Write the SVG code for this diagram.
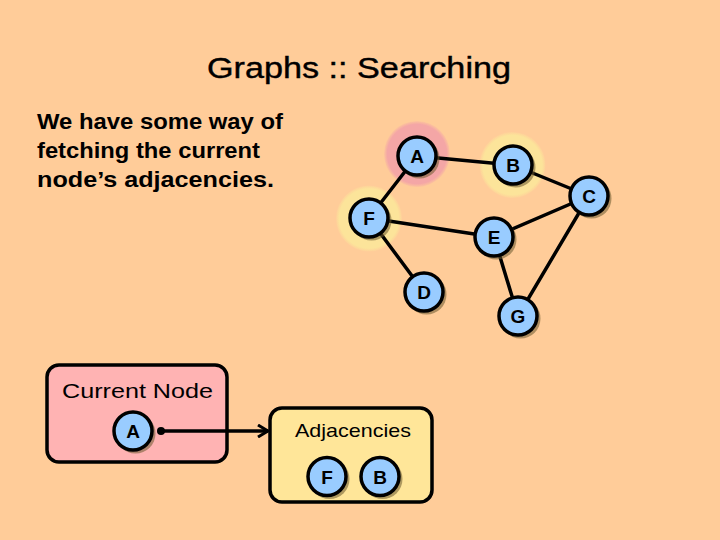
<svg xmlns="http://www.w3.org/2000/svg" width="720" height="540" viewBox="0 0 720 540">
<style>
  .edge { stroke: #000; stroke-width: 3.5; fill: none; stroke-linecap: round; }
  .nc { fill: #99ccff; stroke: #000; stroke-width: 3.5; }
  .sh { fill: #6b5a30; opacity: 0.55; }
  .lbl { font-family: "Liberation Sans", Arial, sans-serif; font-weight: bold; font-size: 19px; text-anchor: middle; fill: #000; }
  .txt { font-family: "Liberation Sans", Arial, sans-serif; fill: #000; }
</style>
<defs>
  <radialGradient id="haloPink" cx="0.5" cy="0.5" r="0.5">
    <stop offset="0" stop-color="#f4a6a6"/>
    <stop offset="0.9" stop-color="#f4a6a6"/>
    <stop offset="1" stop-color="#f4a6a6" stop-opacity="0.2"/>
  </radialGradient>
  <radialGradient id="haloYellow" cx="0.5" cy="0.5" r="0.5">
    <stop offset="0" stop-color="#fce49a"/>
    <stop offset="0.9" stop-color="#fce49a"/>
    <stop offset="1" stop-color="#fce49a" stop-opacity="0.2"/>
  </radialGradient>
  <marker id="arrow" viewBox="0 0 14 14" refX="12" refY="7" markerWidth="14" markerHeight="14" markerUnits="userSpaceOnUse" orient="auto">
    <path d="M2,1 L12,7 L2,13" fill="none" stroke="#000" stroke-width="3"/>
  </marker>
</defs>
<rect x="0" y="0" width="720" height="540" fill="#ffcc99"/>

<text class="txt" x="207" y="78" font-size="29" stroke="#000" stroke-width="0.4" textLength="304" lengthAdjust="spacingAndGlyphs">Graphs :: Searching</text>
<g id="desc" class="txt" font-size="22" font-weight="bold">
  <text x="37" y="129" textLength="246" lengthAdjust="spacingAndGlyphs">We have some way of</text>
  <text x="37" y="158" textLength="223" lengthAdjust="spacingAndGlyphs">fetching the current</text>
  <text x="37" y="187" textLength="237" lengthAdjust="spacingAndGlyphs">node’s adjacencies.</text>
</g>

<g id="halos">
  <circle cx="417" cy="154" r="33" fill="url(#haloPink)"/>
  <circle cx="512.5" cy="165" r="33" fill="url(#haloYellow)"/>
  <circle cx="369" cy="218.5" r="33" fill="url(#haloYellow)"/>
</g>

<g id="current-node-box">
  <rect x="47" y="365" width="180" height="97" rx="12" fill="#ffb3b3" stroke="#000" stroke-width="3.5"/>
  <text class="txt" x="62" y="398" font-size="21" textLength="151" lengthAdjust="spacingAndGlyphs">Current Node</text>
</g>
<g id="adjacencies-box">
  <rect x="270" y="408" width="162" height="94" rx="12" fill="#ffe699" stroke="#000" stroke-width="3.5"/>
  <text class="txt" x="295" y="437" font-size="19" textLength="116" lengthAdjust="spacingAndGlyphs">Adjacencies</text>
</g>

<g id="connectors">
  <line class="edge" x1="417" y1="156" x2="513" y2="165"/>
  <line class="edge" x1="417" y1="156" x2="369" y2="218"/>
  <line class="edge" x1="513" y1="165" x2="589" y2="196"/>
  <line class="edge" x1="589" y1="196" x2="494" y2="237"/>
  <line class="edge" x1="589" y1="196" x2="518" y2="316"/>
  <line class="edge" x1="369" y1="218" x2="494" y2="237"/>
  <line class="edge" x1="369" y1="218" x2="424" y2="292"/>
  <line class="edge" x1="494" y1="237" x2="518" y2="316"/>
  <circle cx="161" cy="431" r="4" fill="#000"/>
  <line x1="161" y1="431" x2="268" y2="431" stroke="#000" stroke-width="3.5" marker-end="url(#arrow)"/>
</g>

<g id="node-A"><circle class="sh" cx="419.5" cy="158.5" r="20"/><circle class="nc" cx="417" cy="156" r="19"/><text class="lbl" x="417" y="163">A</text></g>
<g id="node-B"><circle class="sh" cx="515.5" cy="167.5" r="20"/><circle class="nc" cx="513" cy="165" r="19"/><text class="lbl" x="513" y="172">B</text></g>
<g id="node-C"><circle class="sh" cx="591.5" cy="198.5" r="20"/><circle class="nc" cx="589" cy="196" r="19"/><text class="lbl" x="589" y="203">C</text></g>
<g id="node-F"><circle class="sh" cx="371.5" cy="220.5" r="20"/><circle class="nc" cx="369" cy="218" r="19"/><text class="lbl" x="369" y="225">F</text></g>
<g id="node-E"><circle class="sh" cx="496.5" cy="239.5" r="20"/><circle class="nc" cx="494" cy="237" r="19"/><text class="lbl" x="494" y="244">E</text></g>
<g id="node-D"><circle class="sh" cx="426.5" cy="294.5" r="20"/><circle class="nc" cx="424" cy="292" r="19"/><text class="lbl" x="424" y="299">D</text></g>
<g id="node-G"><circle class="sh" cx="520.5" cy="318.5" r="20"/><circle class="nc" cx="518" cy="316" r="19"/><text class="lbl" x="518" y="323">G</text></g>

<g id="current-A"><circle class="sh" cx="135.5" cy="433.5" r="20"/><circle class="nc" cx="133" cy="431" r="19"/><text class="lbl" x="133" y="438">A</text></g>
<g id="adj-F"><circle class="sh" cx="329.5" cy="479" r="20"/><circle class="nc" cx="327" cy="476.5" r="19"/><text class="lbl" x="327" y="483.5">F</text></g>
<g id="adj-B"><circle class="sh" cx="382.5" cy="479" r="20"/><circle class="nc" cx="380" cy="476.5" r="19"/><text class="lbl" x="380" y="483.5">B</text></g>
</svg>
